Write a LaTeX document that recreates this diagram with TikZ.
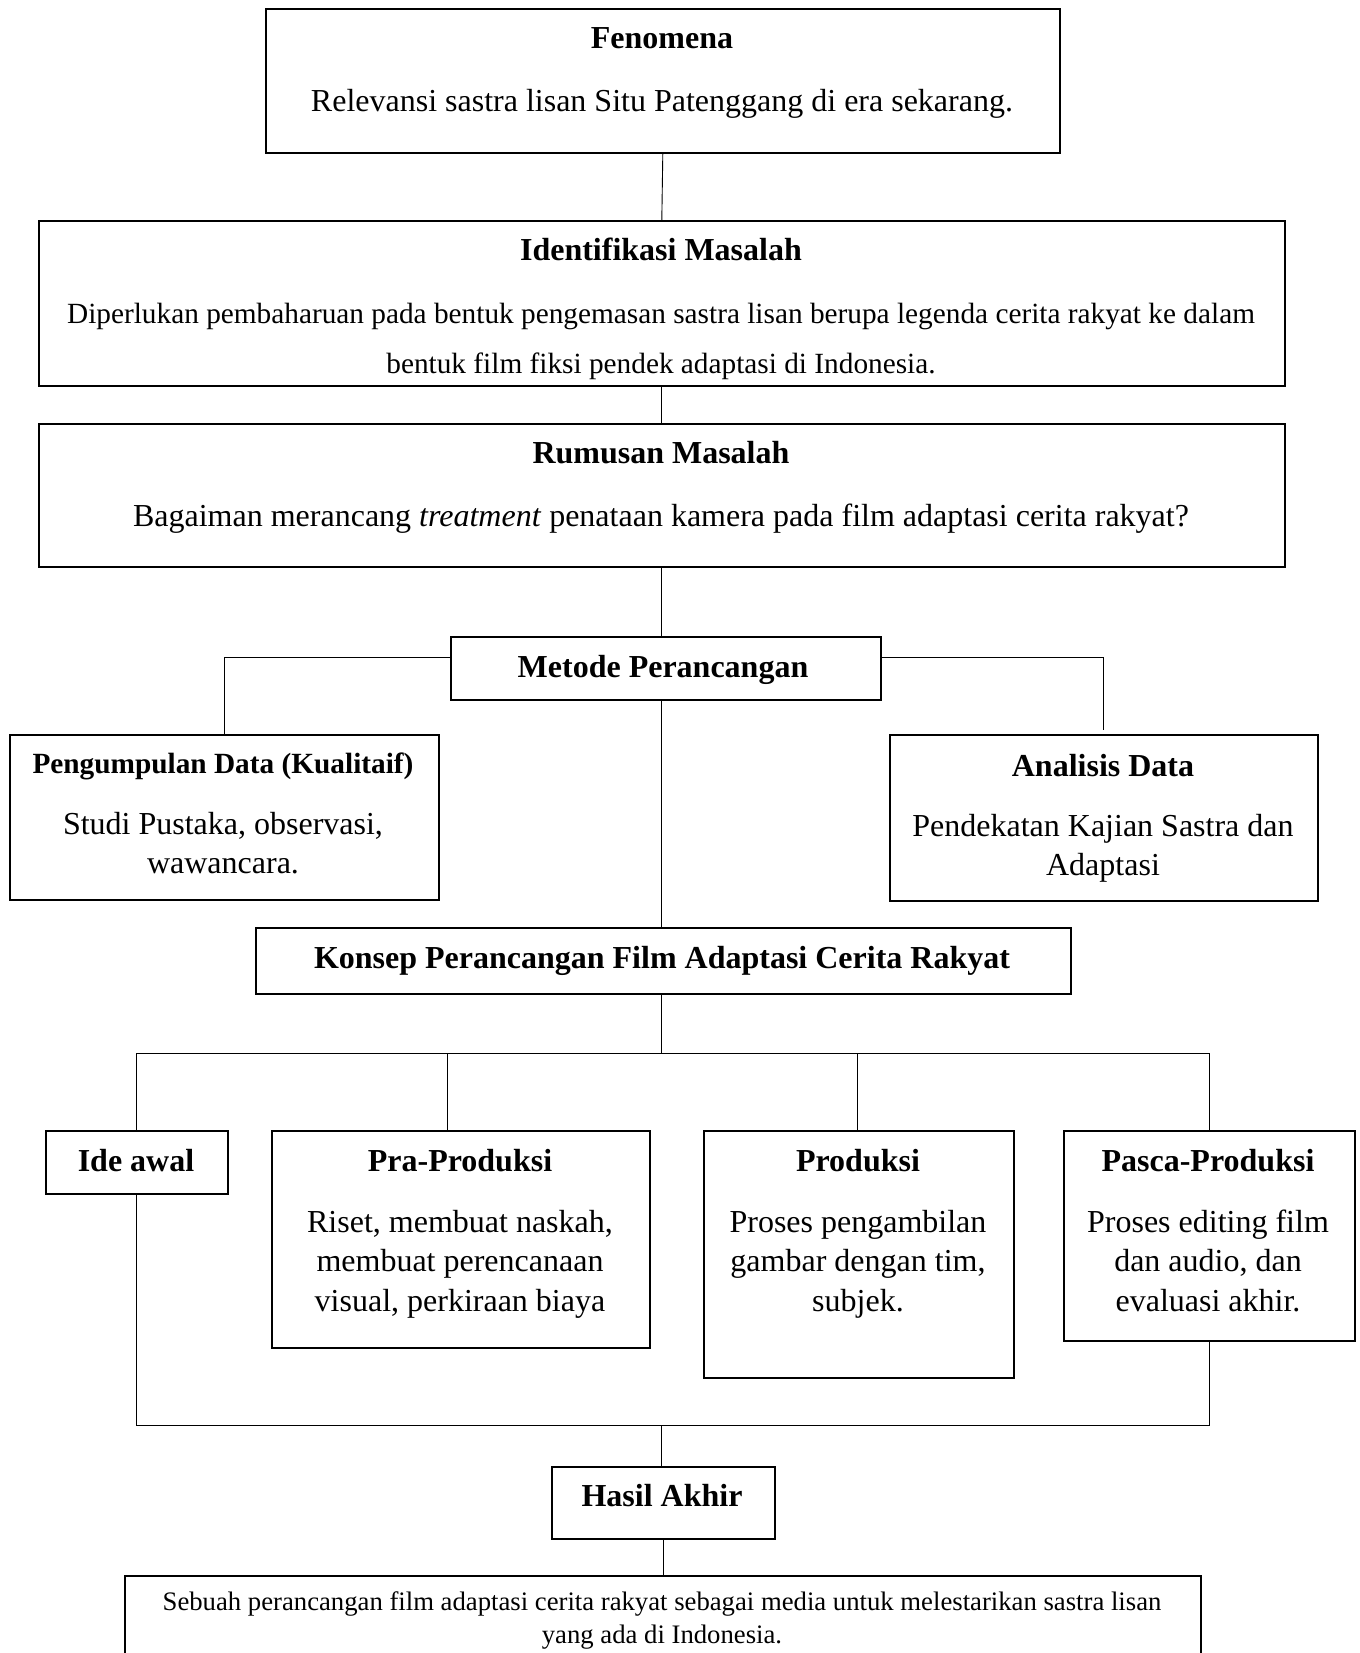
\documentclass[tikz,border=0pt]{standalone}
\usepackage{fontspec}
\setmainfont{Liberation Serif}
\begin{document}
\begin{tikzpicture}[x=1pt,y=-1pt,
  box/.style={draw, line width=1.6pt, inner sep=0pt, anchor=north west},
  conn/.style={line width=0.9pt},
  tx/.style={anchor=base, inner sep=0pt, align=flush center, text width=#1},
  big/.style={font=\fontsize{32}{40}\selectfont},
  mid/.style={font=\fontsize{29.3}{36}\selectfont},
  body/.style={font=\fontsize{32}{39.5}\selectfont},
]
\useasboundingbox (0,0) rectangle (1359,1653);
% boxes
\node[box, minimum width=794pt, minimum height=144pt] (fen) at (265,8) {};
\node[box, minimum width=1246pt, minimum height=165pt] (ide0) at (38,220) {};
\node[box, minimum width=1246pt, minimum height=143pt] (rum) at (38,423) {};
\node[box, minimum width=430pt, minimum height=63pt] (met) at (450,636) {};
\node[box, minimum width=429pt, minimum height=165pt] (pen) at (9,734) {};
\node[box, minimum width=428pt, minimum height=166pt] (ana) at (889,734) {};
\node[box, minimum width=815pt, minimum height=66pt] (kon) at (255,927) {};
\node[box, minimum width=182pt, minimum height=63pt] (ide) at (45,1130) {};
\node[box, minimum width=378pt, minimum height=217pt] (pra) at (271,1130) {};
\node[box, minimum width=310pt, minimum height=247pt] (pro) at (703,1130) {};
\node[box, minimum width=291pt, minimum height=210pt] (pas) at (1063,1130) {};
\node[box, minimum width=223pt, minimum height=72pt] (has) at (551,1466) {};
\node[box, minimum width=1076pt, minimum height=95pt] (fin) at (124,1575) {};
% texts
\node[tx=900pt, big] (t1) at (662,49) {\textbf{Fenomena}};
\node[tx=900pt, big] (t2) at (662,112) {Relevansi sastra lisan Situ Patenggang di era sekarang.};
\node[tx=1320pt, big] (t3) at (661,261) {\textbf{Identifikasi Masalah}};
\node[tx=1320pt, font=\fontsize{29.3}{50}\selectfont] (t4) at (661,323) {Diperlukan pembaharuan pada bentuk pengemasan sastra lisan berupa legenda cerita rakyat ke dalam\\ bentuk film fiksi pendek adaptasi di Indonesia.};
\node[tx=1320pt, big] (t5) at (661,463) {\textbf{Rumusan Masalah}};
\node[tx=1320pt, big] (t6) at (661,526) {Bagaiman merancang \textit{treatment} penataan kamera pada film adaptasi cerita rakyat?};
\node[tx=440pt, big] (t7) at (663,677) {\textbf{Metode Perancangan}};
\node[tx=440pt, mid] (t8) at (223,773) {\textbf{Pengumpulan Data (Kualitaif)}};
\node[tx=440pt, body] (t9) at (223,834) {Studi Pustaka, observasi,\\ wawancara.};
\node[tx=440pt, big] (t10) at (1103,776) {\textbf{Analisis Data}};
\node[tx=440pt, body] (t11) at (1103,836) {Pendekatan Kajian Sastra dan\\ Adaptasi};
\node[tx=840pt, big] (t12) at (662,968) {\textbf{Konsep Perancangan Film Adaptasi Cerita Rakyat}};
\node[tx=190pt, big] (t13) at (136,1171) {\textbf{Ide awal}};
\node[tx=390pt, big] (t14) at (460,1171) {\textbf{Pra-Produksi}};
\node[tx=390pt, body] (t15) at (460,1232) {Riset, membuat naskah,\\ membuat perencanaan\\ visual, perkiraan biaya};
\node[tx=320pt, big] (t16) at (858,1171) {\textbf{Produksi}};
\node[tx=320pt, body] (t17) at (858,1232) {Proses pengambilan\\ gambar dengan tim,\\ subjek.};
\node[tx=300pt, big] (t18) at (1208,1171) {\textbf{Pasca-Produksi}};
\node[tx=300pt, body] (t19) at (1208,1232) {Proses editing film\\ dan audio, dan\\ evaluasi akhir.};
\node[tx=230pt, big] (t20) at (662,1506) {\textbf{Hasil Akhir}};
\node[tx=1100pt, font=\fontsize{26.7}{33}\selectfont] (t21) at (662,1610) {Sebuah perancangan film adaptasi cerita rakyat sebagai media untuk melestarikan sastra lisan\\ yang ada di Indonesia.};
% connector coordinates
\coordinate (mb) at (0,657);
\coordinate (br) at (0,1053);
\coordinate (bb) at (0,1425);
\coordinate (xpra) at (447,0);
\coordinate (xpro) at (857,0);
% connectors
\draw[conn] (fen.south) -- (ide0.north);
\draw[conn] (ide0.south) -- (rum.north);
\draw[conn] (rum.south) -- (rum.south |- met.north);
\draw[conn] (met.west |- mb) -| (pen.north);
\draw[conn, shorten >=4pt] (met.east |- mb) -| (ana.north);
\draw[conn] (rum.south |- met.south) -- (rum.south |- kon.north);
\draw[conn] (rum.south |- kon.south) -- (rum.south |- br);
\draw[conn] (ide.north) -- (ide.north |- br) -- (pas.north |- br) -- (pas.north);
\draw[conn] (xpra |- br) -- (xpra |- pra.north);
\draw[conn] (xpro |- br) -- (xpro |- pro.north);
\draw[conn] (ide.south) -- (ide.south |- bb) -- (pas.south |- bb) -- (pas.south);
\draw[conn] (rum.south |- bb) -- (rum.south |- has.north);
\draw[conn] (has.south) -- (has.south |- fin.north);
\end{tikzpicture}
\end{document}
